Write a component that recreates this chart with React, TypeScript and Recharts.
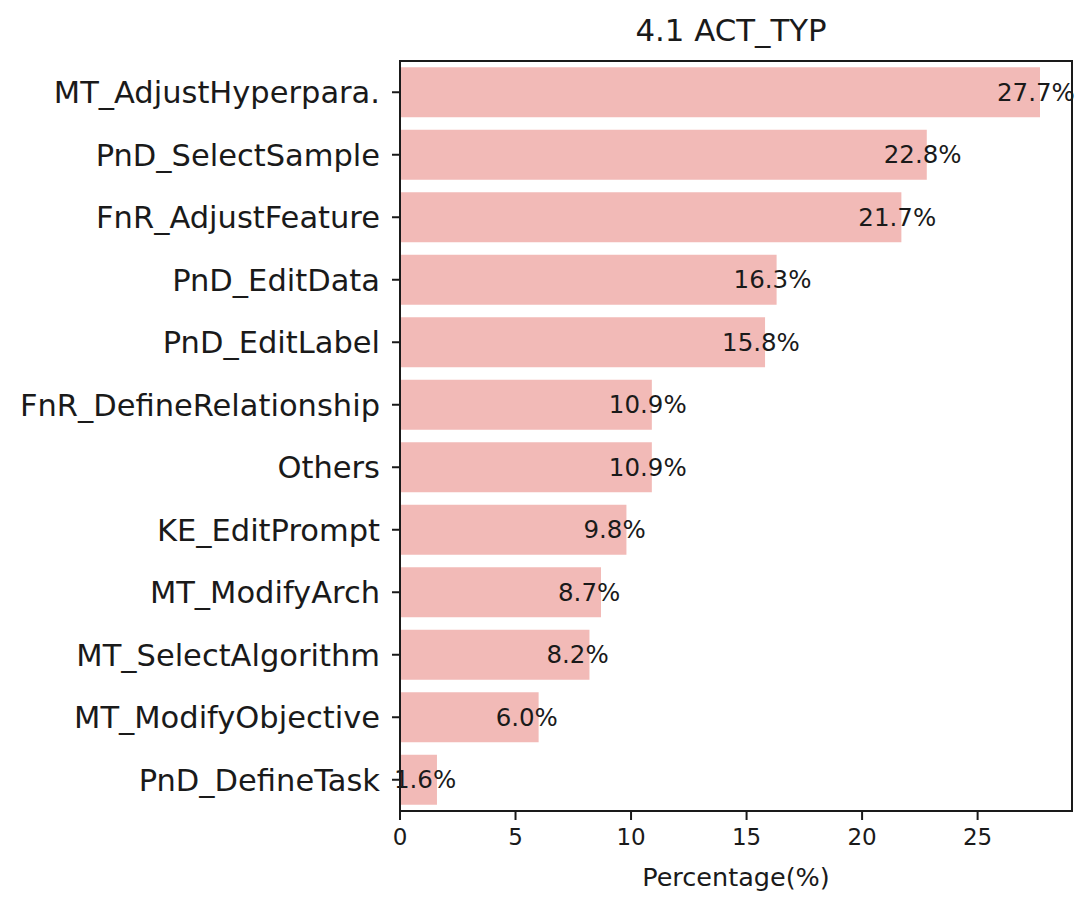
import { Bar, BarChart, LabelList, ReferenceArea, XAxis, YAxis } from "recharts";

const categories = [
  "MT_AdjustHyperpara.",
  "PnD_SelectSample",
  "FnR_AdjustFeature",
  "PnD_EditData",
  "PnD_EditLabel",
  "FnR_DefineRelationship",
  "Others",
  "KE_EditPrompt",
  "MT_ModifyArch",
  "MT_SelectAlgorithm",
  "MT_ModifyObjective",
  "PnD_DefineTask",
];
const percentages = [27.7, 22.8, 21.7, 16.3, 15.8, 10.9, 10.9, 9.8, 8.7, 8.2, 6.0, 1.6];
const xTicks = [0, 5, 10, 15, 20, 25];

const data = categories.map((name, i) => ({ name, pct: percentages[i] }));
const xMax = Math.max(...percentages) * 1.05;

const FONT = "'DejaVu Sans', sans-serif";
const INK = "#1a1a1a";
const BAR = "#f2bab7";

// value label sits just over the bar end, like the original bar_label output
function ValueLabel(props: any) {
  const { x, y, width, height, value } = props;
  return (
    <text
      x={x + width - 43}
      y={y + height / 2}
      textAnchor="start"
      dominantBaseline="central"
      fontFamily={FONT}
      fontSize={24.5}
      fill={INK}
    >
      {`${Number(value).toFixed(1)}%`}
    </text>
  );
}

export default function App() {
  return (
    <div style={{ position: "relative", width: 1092, height: 908, margin: -8, background: "#fff" }}>
      <div
        style={{
          position: "absolute",
          left: 395,
          width: 672,
          top: 12,
          textAlign: "center",
          fontFamily: FONT,
          fontSize: 30.8,
          color: INK,
        }}
      >
        4.1 ACT_TYP
      </div>
      <BarChart
        width={1092}
        height={908}
        data={data}
        layout="vertical"
        margin={{ top: 61, right: 20, bottom: 0, left: 0 }}
        barCategoryGap="10%"
      >
        <XAxis
          type="number"
          dataKey="pct"
          domain={[0, xMax]}
          ticks={xTicks}
          allowDataOverflow
          height={97}
          tickSize={9}
          tickMargin={9}
          stroke={INK}
          strokeWidth={2}
          tick={{ fill: INK, fontSize: 23, fontFamily: FONT }}
          label={{
            value: "Percentage(%)",
            position: "insideBottom",
            offset: 22,
            fill: INK,
            fontSize: 25.5,
            fontFamily: FONT,
          }}
        />
        <YAxis
          type="category"
          dataKey="name"
          width={400}
          tickSize={8}
          tickMargin={12}
          stroke={INK}
          strokeWidth={2}
          interval={0}
          tick={{ fill: INK, fontSize: 30.5, fontFamily: FONT }}
        />
        <Bar dataKey="pct" fill={BAR} isAnimationActive={false}>
          <LabelList dataKey="pct" content={ValueLabel} />
        </Bar>
        {/* full axes frame */}
        <ReferenceArea x1={0} x2={xMax} fill="none" stroke={INK} strokeWidth={2} ifOverflow="visible" />
      </BarChart>
    </div>
  );
}
